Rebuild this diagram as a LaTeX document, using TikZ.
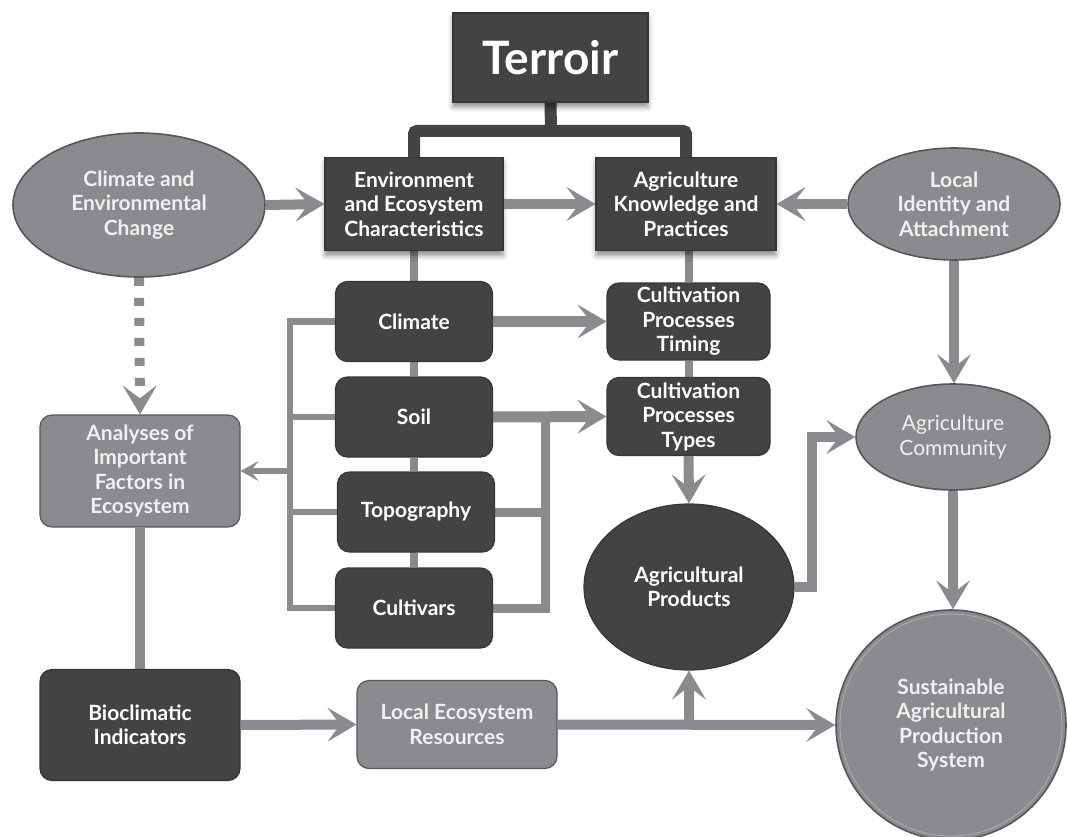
\documentclass[tikz,border=0pt]{standalone}
\usepackage{fontspec}
\setmainfont{Lato}
\usetikzlibrary{arrows.meta,shapes.geometric,shadows.blur,calc}

\definecolor{darkfill}{HTML}{434346}
\definecolor{darkedge}{HTML}{353537}
\definecolor{midgray}{HTML}{8A8B8E}
\definecolor{grayedge}{HTML}{56575A}
\definecolor{conn}{HTML}{8A8B8E}
\definecolor{paletext}{HTML}{F0F0F0}

\pgfdeclarelayer{back}
\pgfsetlayers{back,main}

\tikzset{
  lbl/.style={font=\bfseries\fontsize{21}{24.5}\selectfont, align=center},
  box/.style={lbl, rectangle, fill=darkfill, draw=darkedge, line width=1.2pt,
              text=white, inner sep=0pt},
  sharpbox/.style={box, blur shadow={shadow xshift=0pt, shadow yshift=-5pt,
              shadow blur radius=5pt, shadow opacity=45}},
  rbox/.style={box, rounded corners=12pt},
  gbox/.style={rbox, fill=midgray, draw=grayedge, text=paletext},
  oval/.style={lbl, ellipse, fill=midgray, draw=grayedge, line width=1.6pt,
              text=paletext, inner sep=0pt},
  tree/.style={draw=darkfill, line width=12pt, rounded corners=3pt},
  link/.style={draw=conn, line width=8pt},
  thinlink/.style={draw=conn, line width=6.5pt},
  bus/.style={draw=conn, line width=9pt},
  bighead/.style={-{Stealth[length=29pt, width=34pt, inset=13pt, line width=0.5pt]}},
  arr/.style={draw=conn, line width=10pt, bighead},
  thinarr/.style={draw=conn, line width=6pt,
              -{Stealth[length=18pt, width=20pt, inset=8pt, line width=0.5pt]}},
  dasharr/.style={draw=conn, line width=10pt, dash pattern=on 8pt off 12pt, bighead},
}

\begin{document}
\begin{tikzpicture}[x=1pt, y=-1pt]
\useasboundingbox (0,0) rectangle (1067,837);

% top of the hierarchy
\node[sharpbox, minimum width=195pt, minimum height=89pt,
      font=\bfseries\fontsize{46}{50}\selectfont] (terroir) at (550.5,57.5) {Terroir};

\node[sharpbox, minimum width=178pt, minimum height=93pt] (env) at (414,204)
  {Environment\\and Ecosystem\\Characteristics};
\node[sharpbox, minimum width=180pt, minimum height=93pt] (agk) at (686,204)
  {Agriculture\\Knowledge and\\Practices};

% side ellipses
\node[oval, minimum width=252pt, minimum height=144pt] (climchange) at (139,205)
  {Climate and\\Environmental\\Change};
\node[oval, minimum width=212pt, minimum height=112pt] (local) at (954,204)
  {Local\\Identity and\\Attachment};

% environmental factors
\node[rbox, minimum width=157pt, minimum height=80pt] (climate) at (414,321.5) {Climate};
\node[rbox, minimum width=157pt, minimum height=80pt] (soil) at (414,417) {Soil};
\node[rbox, minimum width=157pt, minimum height=80pt] (topo) at (416,512) {Topography};
\node[rbox, minimum width=157pt, minimum height=80pt] (cultivars) at (414,608) {Cultivars};

% cultivation processes
\node[rbox, minimum width=163pt, minimum height=77pt] (timing) at (688.5,321.5)
  {Cultivation\\Processes\\Timing};
\node[rbox, minimum width=163pt, minimum height=78pt] (types) at (688.5,416.5)
  {Cultivation\\Processes\\Types};

\node[box, ellipse, minimum width=210pt, minimum height=166pt] (products) at (689,587)
  {Agricultural\\Products};

\node[oval, minimum width=194pt, minimum height=106pt,
      font=\fontsize{21}{24.5}\selectfont] (community) at (953,437)
  {Agriculture\\Community};

\node[oval, circle, minimum size=230pt] (sust) at (951,725)
  {Sustainable\\Agricultural\\Production\\System};
\draw[draw=midgray!70!white, line width=0.8pt] (sust.center) circle (111);

% left column
\node[gbox, minimum width=200pt, minimum height=112pt] (analyses) at (140,471)
  {Analyses of\\Important\\Factors in\\Ecosystem};
\node[rbox, minimum width=200pt, minimum height=111pt] (bioclim) at (140,725)
  {Bioclimatic\\Indicators};
\node[gbox, minimum width=200pt, minimum height=88pt] (localeco) at (457,724.5)
  {Local Ecosystem\\Resources};

\coordinate (tj) at (551,131);
\coordinate (lbus) at (290,0);
\coordinate (rbus) at (545,0);
\coordinate (pbend) at (812,0);

\begin{pgfonlayer}{back}
  % hierarchy tree
  \draw[tree] (terroir.south) -- (tj);
  \draw[tree] (env.north) -- (env.north |- tj) -- (agk.north |- tj) -- (agk.north);

  % vertical chains
  \draw[link] (env.south) -- (climate.north);
  \draw[link] (climate.south) -- (soil.north);
  \draw[link] (soil.south) -- (soil.south |- topo.north);
  \draw[link] (topo.south) -- (topo.south -| cultivars.north) -- (cultivars.north);
  \draw[link] (agk.south) -- (agk.south -| timing.north) -- (timing.north);
  \draw[link] (timing.south) -- (types.north);

  % left bus collecting the factors
  \draw[thinlink] (climate.west) -| (lbus |- cultivars.west) -- (cultivars.west);
  \draw[thinlink] (soil.west) -- (lbus |- soil.west);
  \draw[thinlink] (topo.west) -- (lbus |- topo.west);

  % right bus feeding the process types
  \draw[bus] (cultivars.east) -| (rbus |- soil.east);
  \draw[bus] (topo.east) -- (rbus |- topo.east);

  % vertical link on the left column
  \draw[link, line width=9.5pt] (analyses.south) -- (bioclim.north);
\end{pgfonlayer}

% arrows
\draw[arr] (climchange.east) -- (env.west);
\draw[arr] (env.east) -- (agk.west);
\draw[arr] (local.west) -- (agk.east);
\draw[arr, line width=11pt] (climate.east) -- (timing.west);
\draw[arr, line width=11pt] (soil.east) -- (types.west);
\draw[thinarr] (lbus |- analyses.east) -- (analyses.east);
\draw[arr] (types.south) -- (products.north);
\draw[arr] (products.east) -- (pbend |- products.east) |- (community.west);
\draw[arr] (local.south) -- (local.south |- community.north);
\draw[arr] (community.south) -- (community.south |- sust.north);
\draw[dasharr] (climchange.south) -- (analyses.north);
\draw[arr] (bioclim.east) -- (localeco.west);
\draw[arr] (localeco.east) -- (sust.west);
\draw[arr] (products.south |- localeco.east) -- (products.south);

\end{tikzpicture}
\end{document}
